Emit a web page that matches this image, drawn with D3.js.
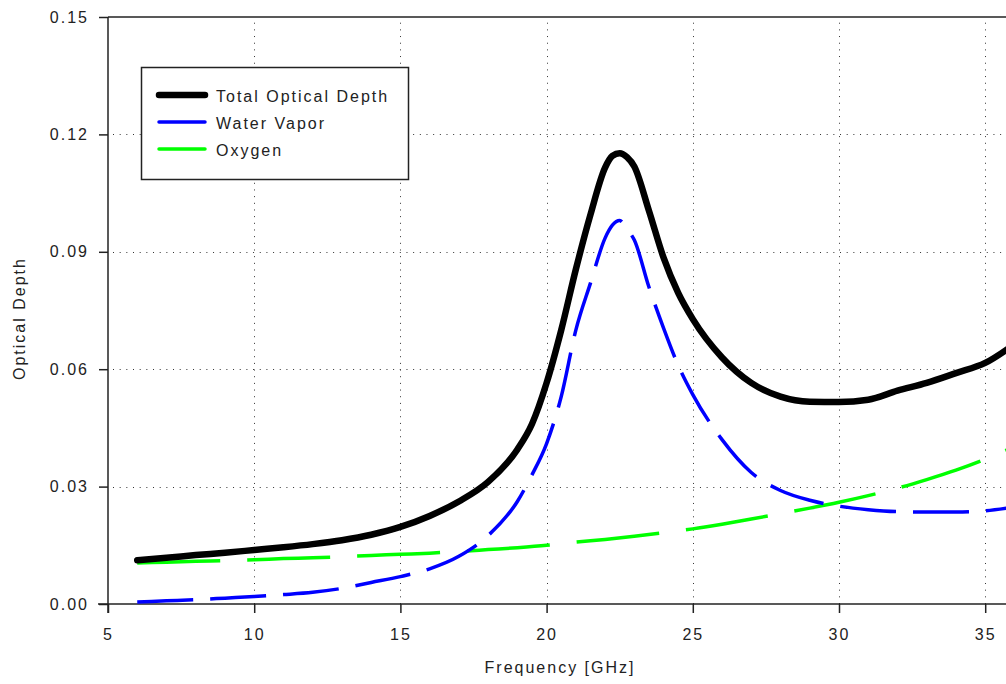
<!DOCTYPE html>
<html><head><meta charset="utf-8">
<script src="https://cdn.jsdelivr.net/npm/d3@7"></script>
<style>
body{margin:0;background:#fff}
text{font-family:"Liberation Sans",Arial,sans-serif;font-size:16px;letter-spacing:2px;fill:#222}
</style>
</head><body><svg id="c" width="1006" height="684"></svg>
<script>
// ---- data ----
const freq = [6,7,8,9,10,11,12,13,14,15,16,17,18,19,19.5,20,20.5,21,21.5,22,22.25,22.5,22.75,23,23.5,24,24.5,25,26,27,28,29,30,31,32,33,34,35,36];
const totalDepth = [0.0112,0.0118,0.0125,0.0131,0.0138,0.0145,0.0153,0.0163,0.0177,0.0197,0.0225,0.0262,0.0312,0.0395,0.0460,0.0565,0.0700,0.0855,0.0995,0.1115,0.1145,0.1152,0.1142,0.1118,0.1005,0.0885,0.0795,0.0728,0.0630,0.0565,0.0530,0.0517,0.0516,0.0522,0.0545,0.0565,0.0590,0.0616,0.0664];
const waterVapor = [0.0005,0.0008,0.0011,0.0015,0.0019,0.0024,0.0030,0.0040,0.0055,0.0070,0.0090,0.0122,0.0175,0.0262,0.0330,0.0410,0.0530,0.0700,0.0820,0.0935,0.0968,0.0980,0.0958,0.0930,0.0810,0.0705,0.0610,0.0535,0.0420,0.0336,0.0290,0.0265,0.0250,0.0241,0.0236,0.0235,0.0235,0.0238,0.0248];
const freqO2 = [6,7,8,9,10,11,12,13,14,15,16,17,18,19,20,21,22,23,24,25,26,27,28,29,30,31,32,33,34,35,36];
const oxygen = [0.0105,0.0107,0.0109,0.0111,0.0113,0.0116,0.0118,0.0121,0.0124,0.0127,0.0130,0.0134,0.0139,0.0144,0.0150,0.0158,0.0165,0.0173,0.0182,0.0192,0.0204,0.0217,0.0231,0.0245,0.0260,0.0277,0.0296,0.0318,0.0342,0.0370,0.0402];
const xTicks = [5,10,15,20,25,30,35];
const yTicks = [0,0.03,0.06,0.09,0.12,0.15];
const seriesNames = ["Total Optical Depth","Water Vapor","Oxygen"];
const xTitle = "Frequency [GHz]";
const yTitle = "Optical Depth";

// ---- drawing ----
const svg = d3.select("#c");
const x = d3.scaleLinear().domain([5,40]).range([108, 108 + 35*29.24]);
const y = d3.scaleLinear().domain([0,0.15]).range([604,17]);
const axisColor = "#222";

// grid
const grid = svg.append("g").attr("stroke","#333").attr("stroke-width",1).attr("stroke-dasharray","1,5.67");
grid.selectAll("line.v").data(xTicks.filter(d=>d>5)).join("line")
  .attr("x1",d=>Math.round(x(d))+0.5).attr("x2",d=>Math.round(x(d))+0.5)
  .attr("y1",y(0)).attr("y2",y(0.15)+5);
grid.selectAll("line.h").data(yTicks.filter(d=>d>0 && d<0.15)).join("line")
  .attr("x1",x(5)+5).attr("x2",x(40))
  .attr("y1",d=>Math.round(y(d))+0.5).attr("y2",d=>Math.round(y(d))+0.5);

// top frame
svg.append("line").attr("x1",x(5)).attr("x2",x(40)).attr("y1",y(0.15)).attr("y2",y(0.15))
  .attr("stroke",axisColor).attr("stroke-width",1.5);

// axes
const yAxis = svg.append("g").attr("transform",`translate(${x(5)},0)`)
  .call(d3.axisLeft(y).tickValues(yTicks).tickSize(9).tickSizeOuter(0).tickPadding(10).tickFormat(d3.format(".2f")));
const xAxis = svg.append("g").attr("transform",`translate(0,${y(0)})`)
  .call(d3.axisBottom(x).tickValues(xTicks).tickSize(9).tickSizeOuter(0).tickPadding(16).tickFormat(d3.format("d")));
[xAxis,yAxis].forEach(a=>{
  a.selectAll("path,line").attr("stroke",axisColor).attr("stroke-width",1.5);
  a.selectAll("text").attr("fill","#222").style("font-size","16px").attr("font-family",null);
});
xAxis.select(".domain").attr("d",`M${x(5)-10},0H${x(40)}`);
yAxis.select(".domain").attr("d",`M0,${y(0)+9}V${y(0.15)}`);

// lines
const line = d3.line().x(d=>x(d[0])).y(d=>y(d[1])).curve(d3.curveMonotoneX);
svg.append("path").datum(freqO2.map((f,i)=>[f,oxygen[i]]))
  .attr("d",line).attr("fill","none").attr("stroke","#00ff00").attr("stroke-width",3.5)
  .attr("stroke-dasharray","83,27");
svg.append("path").datum(freq.map((f,i)=>[f,waterVapor[i]]))
  .attr("d",line).attr("fill","none").attr("stroke","#0000ff").attr("stroke-width",3.5)
  .attr("stroke-dasharray","56,17");
svg.append("path").datum(freq.map((f,i)=>[f,totalDepth[i]]))
  .attr("d",line).attr("fill","none").attr("stroke","#000").attr("stroke-width",6.5)
  .attr("stroke-linejoin","round").attr("stroke-linecap","round");

// legend
const lg = svg.append("g");
lg.append("rect").attr("x",141.5).attr("y",67.5).attr("width",267).attr("height",112)
  .attr("fill","#fff").attr("stroke",axisColor).attr("stroke-width",1.5);
const lgStyles = [{c:"#000",w:6.5,cap:"round"},{c:"#0000ff",w:3.5,cap:"round"},{c:"#00ff00",w:3.5,cap:"round"}];
seriesNames.forEach((n,i)=>{
  const ly = 95 + i*27;
  lg.append("line").attr("x1",159).attr("x2",205).attr("y1",ly).attr("y2",ly)
    .attr("stroke",lgStyles[i].c).attr("stroke-width",lgStyles[i].w).attr("stroke-linecap",lgStyles[i].cap);
  lg.append("text").attr("x",216).attr("y",ly+7).text(n);
});

// titles
svg.append("text").attr("x",560).attr("y",673).attr("text-anchor","middle").text(xTitle);
svg.append("text").attr("transform",`translate(25,${(y(0)+y(0.15))/2+8}) rotate(-90)`)
  .attr("text-anchor","middle").text(yTitle);
</script></body></html>
